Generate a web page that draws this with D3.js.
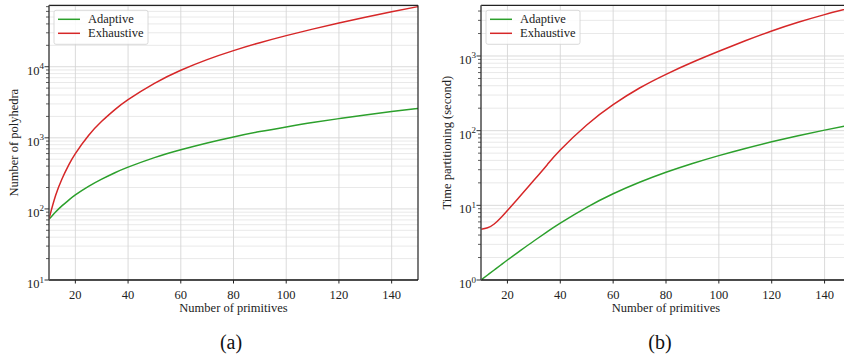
<!DOCTYPE html>
<html>
<head>
<meta charset="utf-8">
<script src="https://cdn.jsdelivr.net/npm/d3@7"></script>
<style>
  body { margin: 0; background: #fff; }
  svg { display: block; }
  text { font-family: "Liberation Serif", "DejaVu Serif", serif; }
</style>
</head>
<body>
<svg id="chart" width="844" height="356"></svg>
<script>
// x values shared by both panels
const primitives = [10, 12.5, 15, 17.5, 20, 25, 30, 35, 40, 50, 60, 70, 80, 90, 100, 110, 120, 130, 140, 150];

// (a) number of polyhedra
const polyAdaptive   = [71.4, 90.4, 111, 133, 157, 207, 262, 323, 387, 527, 680, 848, 1030, 1223, 1423, 1641, 1862, 2100, 2344, 2592];
const polyExhaustive = [72.6, 154, 268, 416, 600, 1077, 1707, 2493, 3446, 5842, 8930, 12590, 16840, 21760, 27370, 33800, 41170, 49530, 59190, 70040];

// (b) time partitioning (second)
const timeAdaptive   = [1.0, 1.167, 1.361, 1.588, 1.853, 2.491, 3.33, 4.408, 5.765, 9.383, 14.27, 20.34, 27.69, 36.33, 46.35, 57.86, 70.93, 85.6, 101.7, 119.4];
const timeExhaustive = [4.775, 5.0, 5.62, 6.81, 8.528, 13.54, 21.63, 34.8, 55.1, 119.2, 223, 372.7, 568.6, 823.4, 1156, 1597, 2161, 2827, 3584, 4420];

const xTicks = [20, 40, 60, 80, 100, 120, 140];
const seriesNames = ['Adaptive', 'Exhaustive'];
const seriesColors = ['#2ca02c', '#d62728'];

const svg = d3.select('#chart');
const FONT = '"Liberation Serif", "DejaVu Serif", serif';

function panel(opts) {
    const { left, right, top, bottom, yDomain, ys, yLabel, yLabelX, tag, tagX, rightSpine } = opts;
    const g = svg.append('g');

    const x = d3.scaleLinear().domain([10, 150]).range([left, right]);
    const y = d3.scaleLog().domain(yDomain).range([bottom, top]);

    const clipId = 'clip-' + tag.replace(/\W/g, '');
    svg.append('clipPath').attr('id', clipId)
        .append('rect')
        .attr('x', left).attr('y', top)
        .attr('width', right - left).attr('height', bottom - top);

    // log grid: majors and minors
    const k0 = Math.floor(Math.log10(yDomain[0]));
    const k1 = Math.ceil(Math.log10(yDomain[1]));
    const majors = [], minors = [];
    for (let k = k0; k <= k1; k++) {
        const base = Math.pow(10, k);
        if (base >= yDomain[0] && base <= yDomain[1]) majors.push(base);
        for (let m = 2; m <= 9; m++) {
            const v = m * base;
            if (v > yDomain[0] && v < yDomain[1]) minors.push(v);
        }
    }

    const grid = g.append('g').attr('clip-path', `url(#${clipId})`);
    grid.selectAll('line.minor')
        .data(minors)
        .enter()
        .append('line')
        .attr('class', 'minor')
        .attr('x1', left).attr('x2', right)
        .attr('y1', d => y(d)).attr('y2', d => y(d))
        .attr('stroke', '#e6e6e6')
        .attr('stroke-width', 0.9);
    grid.selectAll('line.major')
        .data(majors)
        .enter()
        .append('line')
        .attr('class', 'major')
        .attr('x1', left).attr('x2', right)
        .attr('y1', d => y(d)).attr('y2', d => y(d))
        .attr('stroke', '#d6d6d6')
        .attr('stroke-width', 0.9);
    grid.selectAll('line.xgrid')
        .data(xTicks)
        .enter()
        .append('line')
        .attr('class', 'xgrid')
        .attr('x1', d => x(d)).attr('x2', d => x(d))
        .attr('y1', top).attr('y2', bottom)
        .attr('stroke', '#d6d6d6')
        .attr('stroke-width', 0.9);

    // curves
    const line = d3.line()
        .x((d, i) => x(primitives[i]))
        .y(d => y(d))
        .curve(d3.curveNatural);

    const curves = g.append('g').attr('clip-path', `url(#${clipId})`);
    ys.forEach((vals, i) => {
        curves.append('path')
            .attr('d', line(vals))
            .attr('fill', 'none')
            .attr('stroke', seriesColors[i])
            .attr('stroke-width', 1.5);
    });

    // spines
    g.append('line').attr('x1', left).attr('x2', right).attr('y1', top).attr('y2', top)
        .attr('stroke', '#222').attr('stroke-width', 1.2);
    if (rightSpine) {
        g.append('line').attr('x1', right).attr('x2', right).attr('y1', top).attr('y2', bottom)
            .attr('stroke', '#222').attr('stroke-width', 1.2);
    }
    g.append('line').attr('x1', left).attr('x2', right).attr('y1', bottom).attr('y2', bottom)
        .attr('stroke', '#111').attr('stroke-width', 1.5);
    g.append('line').attr('x1', left).attr('x2', left).attr('y1', top).attr('y2', bottom)
        .attr('stroke', '#555').attr('stroke-width', 1.6);

    // y ticks
    g.selectAll('line.ymin')
        .data(minors)
        .enter()
        .append('line')
        .attr('x1', left - 3).attr('x2', left)
        .attr('y1', d => y(d)).attr('y2', d => y(d))
        .attr('stroke', '#333').attr('stroke-width', 0.8);
    g.selectAll('line.ymaj')
        .data(majors)
        .enter()
        .append('line')
        .attr('x1', left - 4.5).attr('x2', left)
        .attr('y1', d => y(d)).attr('y2', d => y(d))
        .attr('stroke', '#333').attr('stroke-width', 1);

    const yl = g.selectAll('text.ytick')
        .data(majors)
        .enter()
        .append('text')
        .attr('x', left - 5)
        .attr('y', d => y(d) + 8)
        .attr('text-anchor', 'end')
        .attr('font-family', FONT)
        .attr('font-size', 12.5)
        .attr('fill', '#222');
    yl.append('tspan').text('10');
    yl.append('tspan')
        .attr('font-size', 9)
        .attr('dy', -5.5)
        .text(d => Math.round(Math.log10(d)));

    // x ticks
    g.selectAll('line.xtick')
        .data(xTicks)
        .enter()
        .append('line')
        .attr('x1', d => x(d)).attr('x2', d => x(d))
        .attr('y1', bottom).attr('y2', bottom + 3.5)
        .attr('stroke', '#222').attr('stroke-width', 1);
    g.selectAll('text.xtick')
        .data(xTicks)
        .enter()
        .append('text')
        .attr('x', d => x(d))
        .attr('y', bottom + 18.5)
        .attr('text-anchor', 'middle')
        .attr('font-family', FONT)
        .attr('font-size', 12.5)
        .attr('fill', '#222')
        .text(d => d);

    // axis labels
    g.append('text')
        .attr('x', (left + right) / 2)
        .attr('y', bottom + 32)
        .attr('text-anchor', 'middle')
        .attr('font-family', FONT)
        .attr('font-size', 12.5)
        .attr('fill', '#222')
        .text('Number of primitives');
    g.append('text')
        .attr('transform', `translate(${yLabelX},${(top + bottom) / 2}) rotate(-90)`)
        .attr('text-anchor', 'middle')
        .attr('font-family', FONT)
        .attr('font-size', 12.5)
        .attr('fill', '#222')
        .text(yLabel);

    // legend
    const lg = g.append('g').attr('transform', `translate(${left + 5},${top + 5})`);
    lg.append('rect')
        .attr('width', 94).attr('height', 34)
        .attr('rx', 2)
        .attr('fill', '#fff').attr('fill-opacity', 0.85)
        .attr('stroke', '#d0d0d0').attr('stroke-width', 0.8);
    seriesNames.forEach((name, i) => {
        lg.append('line')
            .attr('x1', 4).attr('x2', 26)
            .attr('y1', 9 + i * 14).attr('y2', 9 + i * 14)
            .attr('stroke', seriesColors[i]).attr('stroke-width', 1.5);
        lg.append('text')
            .attr('x', 34).attr('y', 13 + i * 14)
            .attr('font-family', FONT)
            .attr('font-size', 12.5)
            .attr('fill', '#222')
            .text(name);
    });

    // panel tag
    svg.append('text')
        .attr('x', tagX).attr('y', 349)
        .attr('text-anchor', 'middle')
        .attr('font-family', '"DejaVu Serif", serif')
        .attr('font-size', 20)
        .attr('fill', '#111')
        .text(tag);
}

panel({
    left: 49, right: 418, top: 5.3, bottom: 280,
    yDomain: [10, 73100],
    ys: [polyAdaptive, polyExhaustive],
    yLabel: 'Number of polyhedra', yLabelX: 18,
    tag: '(a)', tagX: 231, rightSpine: true
});

panel({
    left: 481, right: 851, top: 5.3, bottom: 280,
    yDomain: [1, 4775],
    ys: [timeAdaptive, timeExhaustive],
    yLabel: 'Time partitioning (second)', yLabelX: 451,
    tag: '(b)', tagX: 660, rightSpine: false
});
</script>
</body>
</html>
